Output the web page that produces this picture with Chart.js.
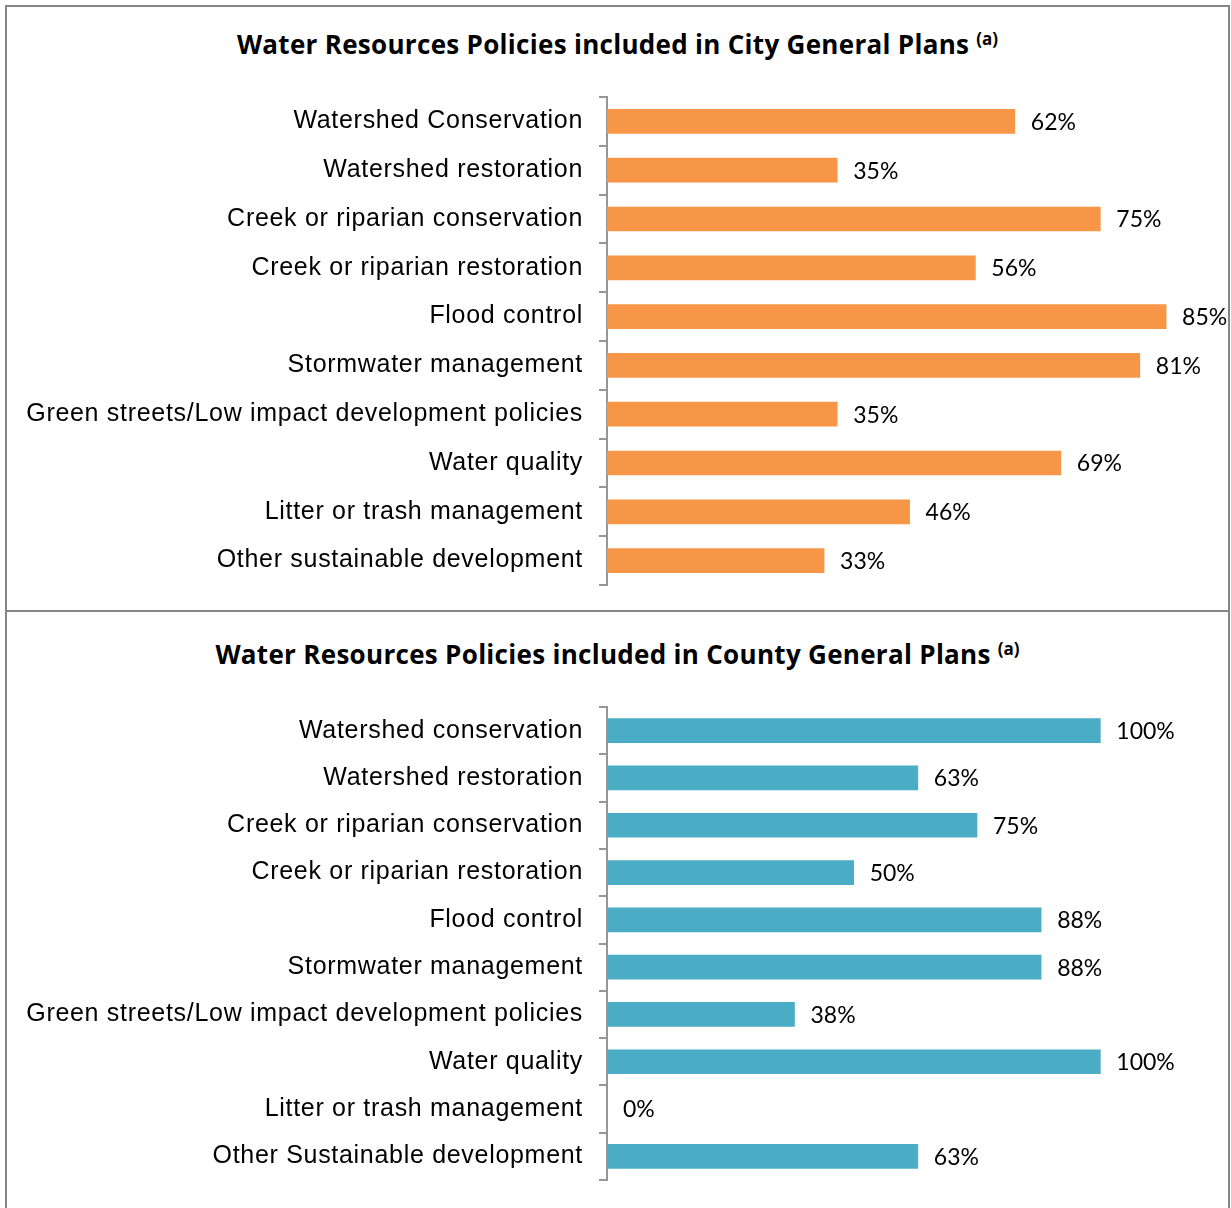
<!DOCTYPE html>
<html>
<head>
<meta charset="utf-8">
<title>Water Resources Policies in General Plans</title>
<script src="https://cdn.jsdelivr.net/npm/chart.js@4.4.0/dist/chart.umd.min.js"></script>
<style>
  body { margin: 0; width: 1231px; height: 1208px; overflow: hidden; background: #fff; position: relative; }
  .panel { position: absolute; left: 5px; width: 1221px; border: 2px solid #868686; }
  #cityPanel { top: 5px; height: 603px; }
  #countyPanel { top: 612px; height: 700px; border-top: none; }
  .title { position: absolute; left: 0; width: 1235px; text-align: center; font: bold 26px "Open Sans", sans-serif; letter-spacing: 0.3px; line-height: 30px; color: #000; }
  .title sup { font-size: 17px; line-height: 0; vertical-align: 9px; letter-spacing: 0; }
  #cityTitle { top: 29px; }
  #countyTitle { top: 639px; }
  canvas { position: absolute; left: 7px; }
  #cityChart { top: 57px; }
  #countyChart { top: 667px; }
</style>
</head>
<body>
<div class="panel" id="cityPanel"></div>
<div class="panel" id="countyPanel"></div>
<div class="title" id="cityTitle">Water Resources Policies included in City General Plans <sup>(a)</sup></div>
<div class="title" id="countyTitle">Water Resources Policies included in County General Plans <sup>(a)</sup></div>
<canvas id="cityChart" width="1221" height="568"></canvas>
<canvas id="countyChart" width="1221" height="553"></canvas>
<script>
// city plans
const cityCategories = [
  'Watershed Conservation',
  'Watershed restoration',
  'Creek or riparian conservation',
  'Creek or riparian restoration',
  'Flood control',
  'Stormwater management',
  'Green streets/Low impact development policies',
  'Water quality',
  'Litter or trash management',
  'Other sustainable development',
];
const cityValues = [62, 35, 75, 56, 85, 81, 35, 69, 46, 33];

// county plans
const countyCategories = [
  'Watershed conservation',
  'Watershed restoration',
  'Creek or riparian conservation',
  'Creek or riparian restoration',
  'Flood control',
  'Stormwater management',
  'Green streets/Low impact development policies',
  'Water quality',
  'Litter or trash management',
  'Other Sustainable development',
];
const countyValues = [100, 63, 75, 50, 88, 88, 38, 100, 0, 63];

// hidden value axis ranges (percent)
const cityAxisMax = 90;
const countyAxisMax = 120;

const axisGray = '#969696';

// slightly wider category text
const labelSpacing = {
  id: 'labelSpacing',
  beforeDraw(chart) {
    chart.ctx.letterSpacing = '0.7px';
  },
};

// writes "NN%" just past the end of each bar
const valueLabels = {
  id: 'valueLabels',
  afterDatasetsDraw(chart) {
    const { ctx } = chart;
    const values = chart.data.datasets[0].data;
    ctx.save();
    ctx.letterSpacing = '0px';
    ctx.font = '23px Lato, sans-serif';
    ctx.fillStyle = '#000';
    ctx.textAlign = 'left';
    ctx.textBaseline = 'middle';
    chart.getDatasetMeta(0).data.forEach((bar, i) => {
      ctx.fillText(values[i] + '%', bar.x + 16, bar.y + 1);
    });
    ctx.restore();
  },
};

function makeChart(id, labels, values, color, max) {
  return new Chart(document.getElementById(id), {
    type: 'bar',
    data: {
      labels,
      datasets: [{ data: values, backgroundColor: color, barThickness: 24 }],
    },
    options: {
      indexAxis: 'y',
      responsive: false,
      animation: false,
      layout: { padding: { top: 40, bottom: 40, left: 0, right: 29 } },
      plugins: { legend: { display: false }, tooltip: { enabled: false } },
      scales: {
        x: { display: false, min: 0, max },
        y: {
          afterFit(scale) { scale.width = 600; },
          grid: { offset: true, drawOnChartArea: false, tickLength: 8, color: axisGray, lineWidth: 2 },
          border: { color: axisGray, width: 2 },
          ticks: {
            autoSkip: false,
            padding: 16,
            color: '#000',
            font: { family: '"Liberation Sans", Arial, sans-serif', size: 25 },
          },
        },
      },
    },
    plugins: [labelSpacing, valueLabels],
  });
}

const cityChart = makeChart('cityChart', cityCategories, cityValues, '#F79646', cityAxisMax);
const countyChart = makeChart('countyChart', countyCategories, countyValues, '#4BACC6', countyAxisMax);
</script>
</body>
</html>
